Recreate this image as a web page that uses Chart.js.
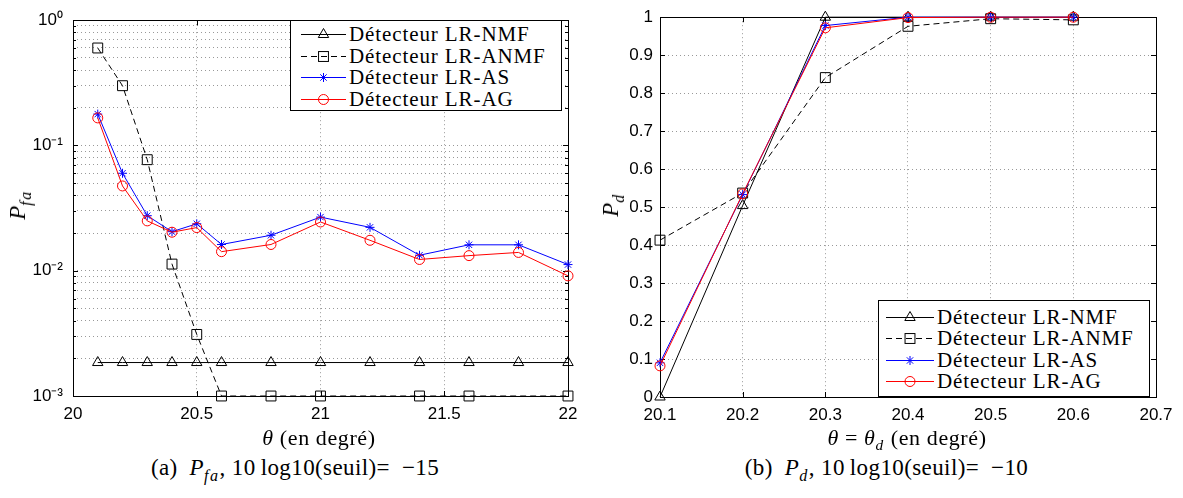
<!DOCTYPE html>
<html>
<head>
<meta charset="utf-8">
<script src="https://cdn.jsdelivr.net/npm/chart.js@4.4.0/dist/chart.umd.min.js"></script>
<style>
  body { margin: 0; background: #fff; }
  #wrap { position: relative; width: 1183px; height: 498px; overflow: hidden;
          font-family: "Liberation Serif", "Times New Roman", serif; color: #000; }
  canvas { position: absolute; top: 0; }
  .txt { position: absolute; white-space: nowrap; font-size: 21px; line-height: 24px; }
  .txt sub { font-size: 70%; vertical-align: -0.35em; line-height: 0; letter-spacing: 1.5px; }
  .ytitle { transform: translate(-50%, -50%) rotate(-90deg); font-size: 23px; font-style: italic; }
  .xtitle { font-size: 22px; letter-spacing: 0.6px; transform: translateX(-50%); }
  .cap { text-align: center; font-size: 23px; letter-spacing: 0.4px; }
  .legend { position: absolute; background: #fff; border: 1px solid #000; box-sizing: border-box;
            font-family: "Liberation Serif", "Times New Roman", serif;
            font-size: 21px; letter-spacing: 0.9px; }
  .legend .row { position: absolute; left: 0; height: 22px; line-height: 22px; white-space: nowrap; }
  .legend svg { position: absolute; top: 0; }
  .legend span { position: absolute; top: 0; }
</style>
</head>
<body>
<div id="wrap">
  <canvas id="pfaChart" width="590" height="440" style="left:0"></canvas>
  <canvas id="pdChart" width="593" height="440" style="left:590px"></canvas>

  <div class="txt ytitle" style="left:18px;top:205px">P<sub>fa</sub></div>
  <div class="txt ytitle" style="left:611px;top:205px">P<sub>d</sub></div>
  <div class="txt xtitle" style="left:319px;top:426px"><i>θ</i> (en degré)</div>
  <div class="txt xtitle" style="left:907px;top:426px"><i>θ</i> = <i>θ<sub>d</sub></i> (en degré)</div>
  <div class="txt cap" style="left:0;width:590px;top:456px">(a)&ensp;<i>P<sub>fa</sub></i>, 10&thinsp;log10(seuil)=&ensp;−15</div>
  <div class="txt cap" style="left:590px;width:593px;top:456px">(b)&ensp;<i>P<sub>d</sub></i>, 10&thinsp;log10(seuil)=&ensp;−10</div>

  <div id="legPfa" class="legend" style="left:290px;top:20px;width:272px;height:91px"></div>
  <div id="legPd" class="legend" style="left:878px;top:300px;width:272px;height:97px"></div>
</div>

<script>
// noms des détecteurs
const names = ["Détecteur LR-NMF", "Détecteur LR-ANMF", "Détecteur LR-AS", "Détecteur LR-AG"];

// (a) Pfa, seuil -15 dB
const pfaX = [20.1, 20.2, 20.3, 20.4, 20.5, 20.6, 20.8, 21, 21.2, 21.4, 21.6, 21.8, 22];
const pfaNMF = [0.00185, 0.00185, 0.00185, 0.00185, 0.00185, 0.00185, 0.00185, 0.00185, 0.00185, 0.00185, 0.00185, 0.00185, 0.00185];
const pfaANMF = [0.6, 0.3, 0.077, 0.0113, 0.0031, 0.001, 0.001, 0.001, null, 0.001, 0.001, null, 0.001];
const pfaAS = [0.178, 0.06, 0.0275, 0.0205, 0.0237, 0.0162, 0.0192, 0.0268, 0.0222, 0.0133, 0.0161, 0.0161, 0.0112];
const pfaAG = [0.166, 0.0475, 0.025, 0.0203, 0.0221, 0.0142, 0.0162, 0.0245, 0.0175, 0.0123, 0.0132, 0.014, 0.0091];
const pfaXTicks = [20, 20.5, 21, 21.5, 22];
const pfaXLabels = ["20", "20.5", "21", "21.5", "22"];
const pfaYTicks = [0.001, 0.01, 0.1, 1];
const pfaYLabels = ["10⁻³", "10⁻²", "10⁻¹", "10⁰"];

// (b) Pd, seuil -10 dB
const pdX = [20.1, 20.2, 20.3, 20.4, 20.5, 20.6];
const pdNMF = [0, 0.504, 1, 1, 1, 1];
const pdANMF = [0.413, 0.537, 0.841, 0.976, 0.996, 0.993];
const pdAS = [0.09, 0.533, 0.978, 1, 1, 1];
const pdAG = [0.082, 0.535, 0.972, 0.999, 1, 1];
const pdXTicks = [20.1, 20.2, 20.3, 20.4, 20.5, 20.6, 20.7];
const pdXLabels = ["20.1", "20.2", "20.3", "20.4", "20.5", "20.6", "20.7"];
const pdYTicks = [0, 0.1, 0.2, 0.3, 0.4, 0.5, 0.6, 0.7, 0.8, 0.9, 1];
const pdYLabels = ["0", "0.1", "0.2", "0.3", "0.4", "0.5", "0.6", "0.7", "0.8", "0.9", "1"];

// styles des courbes (style matlab)
const looks = [
  { color: "#000", dash: [], point: "triangle", r: 6 },
  { color: "#000", dash: [6, 4], point: "rect", r: 7 },
  { color: "#0000ff", dash: [], point: "star", r: 4.5 },
  { color: "#ff0000", dash: [], point: "circle", r: 5 }
];

Chart.defaults.font.family = "'Liberation Sans', Arial, sans-serif";
Chart.defaults.font.size = 17;
Chart.defaults.color = "#000";

function makeDatasets(xs, series) {
  return series.map((ys, i) => ({
    label: names[i],
    data: xs.map((x, j) => ({ x: x, y: ys[j] })),
    borderColor: looks[i].color,
    borderWidth: 1,
    borderDash: looks[i].dash,
    pointStyle: looks[i].point,
    pointRadius: looks[i].r,
    pointBorderColor: looks[i].color,
    pointBackgroundColor: "rgba(0,0,0,0)",
    pointBorderWidth: 1,
    fill: false,
    tension: 0,
    spanGaps: true,
    clip: false,
    order: 3 - i
  }));
}

// cadre + petits ticks vers l'intérieur
const boxPlugin = {
  id: "box",
  beforeDatasetsDraw(chart) {
    const { ctx, chartArea: a, scales } = chart;
    const x = scales.x, y = scales.y;
    ctx.save();
    ctx.strokeStyle = "#000";
    ctx.lineWidth = 1;
    ctx.beginPath();
    x.ticks.forEach(t => {
      const px = Math.round(x.getPixelForValue(t.value)) + 0.5;
      ctx.moveTo(px, a.bottom); ctx.lineTo(px, a.bottom - 5);
      ctx.moveTo(px, a.top); ctx.lineTo(px, a.top + 5);
    });
    y.ticks.forEach(t => {
      const py = Math.round(y.getPixelForValue(t.value)) + 0.5;
      const len = t.major === false ? 3 : 5;
      ctx.moveTo(a.left, py); ctx.lineTo(a.left + len, py);
      ctx.moveTo(a.right, py); ctx.lineTo(a.right - len, py);
    });
    ctx.stroke();
    ctx.strokeRect(Math.round(a.left) + 0.5, Math.round(a.top) + 0.5,
                   Math.round(a.right - a.left), Math.round(a.bottom - a.top));
    ctx.restore();
  }
};

const gridOpts = { color: "#999", lineWidth: 1, drawTicks: false };
const borderOpts = { display: false, dash: [1, 3] };

function pickLabel(values, labels) {
  return function (v) {
    const k = values.findIndex(t => Math.abs(t - v) < 1e-9);
    return k < 0 ? "" : labels[k];
  };
}

// Pfa (échelle log)
new Chart(document.getElementById("pfaChart"), {
  type: "line",
  data: { datasets: makeDatasets(pfaX, [pfaNMF, pfaANMF, pfaAS, pfaAG]) },
  options: {
    responsive: false,
    animation: false,
    events: [],
    layout: { padding: { top: 14, right: 22, left: 0, bottom: 0 } },
    plugins: { legend: { display: false }, tooltip: { enabled: false } },
    scales: {
      x: {
        type: "linear", min: 20, max: 22,
        grid: gridOpts, border: borderOpts,
        afterBuildTicks: s => { s.ticks = pfaXTicks.map(v => ({ value: v })); },
        afterFit: s => { s.height = 44; },
        ticks: { padding: 8, autoSkip: false, maxRotation: 0, callback: pickLabel(pfaXTicks, pfaXLabels) }
      },
      y: {
        type: "logarithmic", min: 0.001, max: 1,
        grid: gridOpts, border: borderOpts,
        afterBuildTicks: s => {
          const ticks = [];
          pfaYTicks.forEach((m, i) => {
            ticks.push({ value: m, major: true });
            if (i < pfaYTicks.length - 1) {
              for (let k = 2; k <= 9; k++) ticks.push({ value: m * k, major: false });
            }
          });
          s.ticks = ticks;
        },
        afterFit: s => { s.width = 73; },
        ticks: { padding: 10, autoSkip: false, callback: pickLabel(pfaYTicks, pfaYLabels) }
      }
    }
  },
  plugins: [boxPlugin]
});

// Pd (échelle linéaire)
new Chart(document.getElementById("pdChart"), {
  type: "line",
  data: { datasets: makeDatasets(pdX, [pdNMF, pdANMF, pdAS, pdAG]) },
  options: {
    responsive: false,
    animation: false,
    events: [],
    layout: { padding: { top: 15, right: 27, left: 0, bottom: 0 } },
    plugins: { legend: { display: false }, tooltip: { enabled: false } },
    scales: {
      x: {
        type: "linear", min: 20.1, max: 20.7,
        grid: gridOpts, border: borderOpts,
        afterBuildTicks: s => { s.ticks = pdXTicks.map(v => ({ value: v })); },
        afterFit: s => { s.height = 43; },
        ticks: { padding: 8, autoSkip: false, maxRotation: 0, callback: pickLabel(pdXTicks, pdXLabels) }
      },
      y: {
        type: "linear", min: 0, max: 1,
        grid: gridOpts, border: borderOpts,
        afterBuildTicks: s => { s.ticks = pdYTicks.map(v => ({ value: v })); },
        afterFit: s => { s.width = 70; },
        ticks: { padding: 7, autoSkip: false, callback: pickLabel(pdYTicks, pdYLabels) }
      }
    }
  },
  plugins: [boxPlugin]
});

// légendes html (ligne + marqueur)
function markerSvg(look, cx, cy) {
  const c = look.color;
  if (look.point === "triangle") {
    const r = look.r;
    return `<polygon points="${cx},${cy - r} ${cx + r * 0.866},${cy + r / 2} ${cx - r * 0.866},${cy + r / 2}" fill="none" stroke="${c}"/>`;
  }
  if (look.point === "rect") {
    const h = look.r * Math.SQRT1_2;
    return `<rect x="${cx - h}" y="${cy - h}" width="${2 * h}" height="${2 * h}" fill="none" stroke="${c}"/>`;
  }
  if (look.point === "star") {
    const r = look.r, d = r * Math.SQRT1_2;
    return `<path d="M${cx - r},${cy}H${cx + r}M${cx},${cy - r}V${cy + r}M${cx - d},${cy - d}L${cx + d},${cy + d}M${cx - d},${cy + d}L${cx + d},${cy - d}" stroke="${c}"/>`;
  }
  return `<circle cx="${cx}" cy="${cy}" r="${look.r}" fill="none" stroke="${c}"/>`;
}

function buildLegend(id, firstTop, step, lineX0, lineX1, textX) {
  const el = document.getElementById(id);
  names.forEach((n, i) => {
    const row = document.createElement("div");
    row.className = "row";
    row.style.top = (firstTop + i * step) + "px";
    row.style.width = "100%";
    const look = looks[i];
    const dash = look.dash.length ? `stroke-dasharray="${look.dash.join(",")}"` : "";
    const mid = (lineX0 + lineX1) / 2;
    row.innerHTML =
      `<svg width="${lineX1 + 2}" height="22"><line x1="${lineX0}" y1="11.5" x2="${lineX1}" y2="11.5" stroke="${look.color}" ${dash}/>` +
      markerSvg(look, mid, 11.5) + `</svg><span style="left:${textX}px">${n}</span>`;
    el.appendChild(row);
  });
}
buildLegend("legPfa", 2, 21.7, 10, 55, 58);
buildLegend("legPd", 5, 21.4, 7, 55, 58);
</script>
</body>
</html>
